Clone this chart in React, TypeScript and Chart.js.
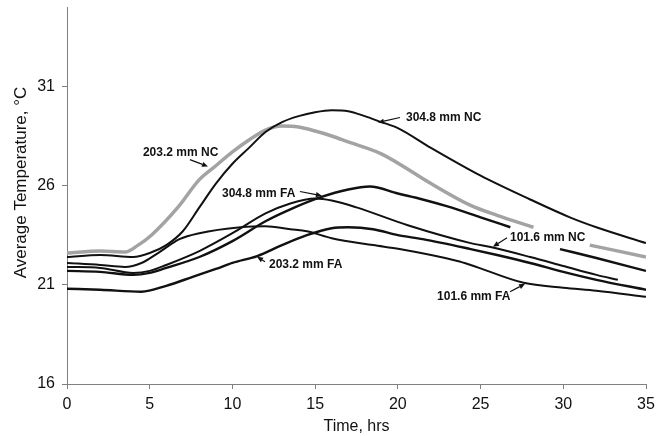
import React, { useEffect, useRef } from 'react';
import { Chart, registerables } from 'chart.js';

Chart.register(...registerables);

const FONT = '"Liberation Sans", Arial, Helvetica, sans-serif';

// Axis settings
const xMin = 0;
const xMax = 35;
const xStep = 5;
const yMin = 16;
const yMax = 35;
const yTickValues = [16, 21, 26, 31];
const xTitle = 'Time, hrs';
const yTitle = 'Average Temperature, \u00B0C';

// Series: hours and average temperature (°C); null marks a gap in the record
const hrs304NC = [0, 2, 4, 5, 6, 7, 8, 9, 10, 11, 12, 13, 14, 15, 16, 17, 18, 19, 20, 22, 25, 28, 30.4, 32, 35];
const temp304NC = [22.4, 22.5, 22.4, 22.6, 23.0, 23.7, 24.9, 26.1, 27.1, 27.9, 28.7, 29.2, 29.5, 29.7, 29.8, 29.75, 29.5, 29.2, 28.9, 27.9, 26.5, 25.3, 24.4, 23.9, 23.1];

const hrs203NC = [0, 2, 3.5, 4.3, 5.1, 6.7, 8, 9, 10, 11, 12, 13, 14, 15, 16, 17, 19, 22, 24.4, 26, 28.2, 30, 31.6, 35];
const temp203NC = [22.6, 22.7, 22.65, 23.0, 23.5, 24.9, 26.3, 27.0, 27.7, 28.3, 28.8, 29.0, 28.95, 28.75, 28.5, 28.2, 27.6, 26.1, 25.0, 24.5, 23.9, null, 23.0, 22.4];

const hrs304FA = [0, 2, 4, 5, 6, 8, 10, 12, 13.5, 15.3, 17, 18.3, 20, 21.5, 23, 25, 26.8, 28.5, 29.8, 32, 35];
const temp304FA = [21.7, 21.65, 21.5, 21.6, 21.85, 22.4, 23.2, 24.2, 24.8, 25.4, 25.8, 25.95, 25.6, 25.3, 24.95, 24.4, 23.9, null, 22.8, 22.35, 21.7];

const hrs101NC = [0, 2, 4, 5, 6, 8, 10, 12, 13.5, 15, 16, 17.5, 20.6, 24.4, 25.6, 28, 30, 32, 33.3];
const temp101NC = [21.9, 21.85, 21.6, 21.7, 22.0, 22.7, 23.6, 24.6, 25.1, 25.35, 25.25, 24.9, 24.0, 23.1, 22.9, 22.4, 21.95, 21.5, 21.25];

const hrs203FA = [0, 2, 4.5, 6, 7.6, 9, 10, 11.5, 13, 14.5, 16, 17, 18.5, 20, 21.5, 24.4, 26, 28, 30, 32, 35];
const temp203FA = [20.8, 20.75, 20.65, 20.95, 21.4, 21.8, 22.1, 22.45, 23.0, 23.5, 23.85, 23.9, 23.8, 23.5, 23.3, 22.8, 22.5, 22.1, 21.65, 21.25, 20.75];

const hrs101FA = [0, 2, 3.5, 4.5, 5.5, 6.8, 8, 10.5, 12, 13.5, 14.5, 16, 18.5, 20.1, 23.6, 24.4, 27.6, 30, 32, 35];
const temp101FA = [22.1, 22.0, 21.9, 22.1, 22.6, 23.3, 23.6, 23.9, 23.95, 23.8, 23.7, 23.35, 23.0, 22.8, 22.2, 22.0, 21.1, 20.85, 20.7, 20.4];

// Callout labels (data coordinates): text anchor, arrow start and arrow tip
const noteTexts = ['304.8 mm NC', '203.2 mm NC', '304.8 mm FA', '203.2 mm FA', '101.6 mm NC', '101.6 mm FA'];
const noteX = [20.49, 4.59, 9.37, 12.21, 26.78, 22.37];
const noteY = [29.43, 27.67, 25.6, 22.01, 23.37, 20.39];
const arrowFromX = [20.13, 7.43, 14.08, 11.97, 26.6, 26.78];
const arrowFromY = [29.43, 27.31, 25.7, 22.16, 23.37, 20.65];
const arrowToX = [18.8, 8.52, 15.41, 11.49, 25.75, 27.69];
const arrowToY = [29.18, 26.96, 25.49, 22.41, 22.92, 21.05];

function toPoints(hrs: number[], temps: (number | null)[]) {
  return hrs.map((x, i) => ({ x, y: temps[i] }));
}

const annotationPlugin = {
  id: 'callouts',
  afterDatasetsDraw(chart: any) {
    const { ctx, scales } = chart;
    const xs = scales.x;
    const ys = scales.y;
    ctx.save();
    ctx.fillStyle = '#111';
    ctx.strokeStyle = '#111';
    ctx.lineWidth = 1.2;
    ctx.font = `bold 12px ${FONT}`;
    ctx.textAlign = 'left';
    ctx.textBaseline = 'middle';
    noteTexts.forEach((t, i) => {
      ctx.fillText(t, xs.getPixelForValue(noteX[i]), ys.getPixelForValue(noteY[i]));
      const x1 = xs.getPixelForValue(arrowFromX[i]);
      const y1 = ys.getPixelForValue(arrowFromY[i]);
      const x2 = xs.getPixelForValue(arrowToX[i]);
      const y2 = ys.getPixelForValue(arrowToY[i]);
      const ang = Math.atan2(y2 - y1, x2 - x1);
      const hl = 6;
      const hw = 2.6;
      const bx = x2 - hl * Math.cos(ang);
      const by = y2 - hl * Math.sin(ang);
      ctx.beginPath();
      ctx.moveTo(x1, y1);
      ctx.lineTo(bx, by);
      ctx.stroke();
      ctx.beginPath();
      ctx.moveTo(x2, y2);
      ctx.lineTo(bx + hw * Math.sin(ang), by - hw * Math.cos(ang));
      ctx.lineTo(bx - hw * Math.sin(ang), by + hw * Math.cos(ang));
      ctx.closePath();
      ctx.fill();
    });
    ctx.restore();
  },
  afterDraw(chart: any) {
    const { ctx, chartArea } = chart;
    ctx.save();
    ctx.translate(21, (chartArea.top + chartArea.bottom) / 2 - 13);
    ctx.rotate(-Math.PI / 2);
    ctx.font = `17px ${FONT}`;
    ctx.fillStyle = '#111';
    ctx.textAlign = 'center';
    ctx.textBaseline = 'middle';
    ctx.fillText(yTitle, 0, 0);
    ctx.restore();
  },
};

export default function App() {
  const ref = useRef<HTMLCanvasElement>(null);
  useEffect(() => {
    const black = '#111';
    const common = {
      pointRadius: 0,
      fill: false,
      cubicInterpolationMode: 'monotone' as const,
      spanGaps: false,
    };
    const chart = new Chart(ref.current as HTMLCanvasElement, {
      type: 'line',
      data: {
        datasets: [
          { label: '304.8 mm NC', data: toPoints(hrs304NC, temp304NC), borderColor: black, borderWidth: 2, ...common },
          { label: '203.2 mm NC', data: toPoints(hrs203NC, temp203NC), borderColor: '#a3a3a3', borderWidth: 3.5, ...common },
          { label: '304.8 mm FA', data: toPoints(hrs304FA, temp304FA), borderColor: black, borderWidth: 2.4, ...common },
          { label: '101.6 mm NC', data: toPoints(hrs101NC, temp101NC), borderColor: black, borderWidth: 2, ...common },
          { label: '203.2 mm FA', data: toPoints(hrs203FA, temp203FA), borderColor: black, borderWidth: 2.4, ...common },
          { label: '101.6 mm FA', data: toPoints(hrs101FA, temp101FA), borderColor: black, borderWidth: 2, ...common },
        ],
      },
      options: {
        animation: false,
        responsive: false,
        maintainAspectRatio: false,
        parsing: false as any,
        normalized: true,
        layout: { padding: { top: 7, right: 11, left: 0, bottom: 0 } },
        plugins: {
          legend: { display: false },
          tooltip: { enabled: false },
          title: { display: false },
        },
        scales: {
          x: {
            type: 'linear',
            min: xMin,
            max: xMax,
            ticks: { stepSize: xStep, color: '#111', font: { family: FONT, size: 16 }, padding: 6, maxRotation: 0 },
            grid: { drawOnChartArea: false, drawTicks: true, tickLength: 5, color: '#808080' },
            border: { color: '#808080', width: 1 },
            title: { display: true, text: xTitle, color: '#111', font: { family: FONT, size: 16 }, padding: { top: 0, bottom: 0 } },
            afterFit(scale: any) {
              scale.height = 52;
              scale.paddingLeft = 0;
              scale.paddingRight = 0;
            },
          },
          y: {
            type: 'linear',
            min: yMin,
            max: yMax,
            afterBuildTicks(scale: any) {
              scale.ticks = yTickValues.map((v) => ({ value: v }));
            },
            ticks: { color: '#111', font: { family: FONT, size: 16 }, padding: 7 },
            grid: { drawOnChartArea: false, drawTicks: true, tickLength: 5, color: '#808080' },
            border: { color: '#808080', width: 1 },
            afterFit(scale: any) {
              scale.width = 67;
              scale.paddingTop = 0;
              scale.paddingBottom = 0;
            },
          },
        },
      },
      plugins: [annotationPlugin],
    } as any);
    return () => chart.destroy();
  }, []);
  return (
    <div style={{ position: 'fixed', left: 0, top: 0, width: 657, height: 436, background: '#fff' }}>
      <canvas ref={ref} width={657} height={436} style={{ width: 657, height: 436, display: 'block' }} />
    </div>
  );
}
